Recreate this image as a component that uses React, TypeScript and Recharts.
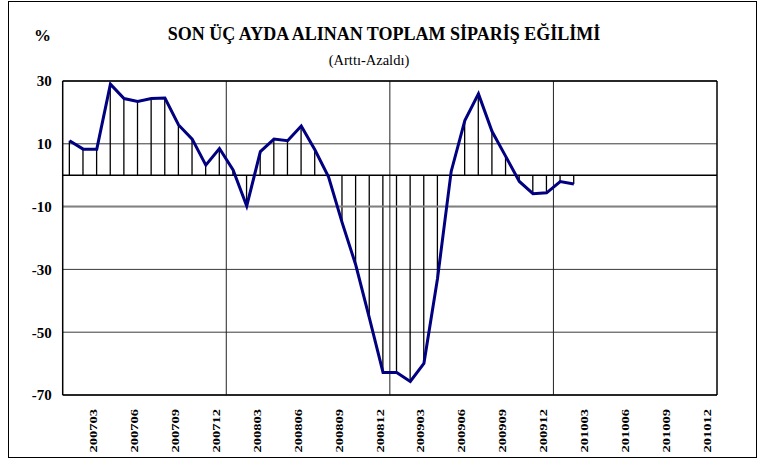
import React from "react";
import {
  ComposedChart, Bar, Line, XAxis, YAxis, CartesianGrid, ReferenceLine,
} from "recharts";

// monthly values 200701 .. 201002, rest of 2010 empty
const values = [
  11.0, 8.3, 8.3, 29.0, 24.4, 23.5, 24.4, 24.6, 16.0, 11.5, 3.2, 8.5,
  1.7, -9.8, 7.5, 11.5, 11.0, 15.7, 8.1, -0.5, -15.1, -28.6, -45.5, -62.8,
  -62.8, -65.7, -59.9, -32.8, 1.2, 17.4, 25.9, 13.9, 6.0, -2.0, -5.9, -5.6,
  -2.0, -2.8,
];
const years = [2007, 2008, 2009, 2010];
const tickLabels = [
  "200703", "200706", "200709", "200712",
  "200803", "200806", "200809", "200812",
  "200903", "200906", "200909", "200912",
  "201003", "201006", "201009", "201012",
];
const yTicks = [30, 10, -10, -30, -50, -70];

const monthCount = years.length * 12;
const data = Array.from({ length: monthCount }, (_, i) => ({
  x: i + 0.5,
  v: i < values.length ? values[i] : null,
}));
// label ticks sit on the centre of every third month
const xTicks = tickLabels.map((_, i) => i * 3 + 2.5);
const labelAt = (t: number) => tickLabels[Math.round((t - 2.5) / 3)] ?? "";
const yearEdges = years.slice(1).map((_, i) => (i + 1) * 12);

const serif = "'Liberation Serif', 'Times New Roman', serif";

const MonthTick = ({ x, y, payload }: { x?: number; y?: number; payload?: { value: number } }) => (
  <text
    transform={`translate(${(x ?? 0) + 0.5},${(y ?? 0) + 12}) rotate(-90) scale(1,0.76)`}
    textAnchor="end"
    fontFamily={serif}
    fontWeight="bold"
    fontSize={14.5}
    fill="#000"
  >
    {labelAt(payload?.value ?? 0)}
  </text>
);

export default function App() {
  return (
    <div style={{ position: "absolute", left: 0, top: 0, width: 771, height: 463, background: "#fff", fontFamily: serif }}>
      <div style={{ position: "absolute", left: 8, top: 1, width: 747, height: 455, border: "1.5px solid #000" }} />
      <div style={{ position: "absolute", left: 0, top: 25, width: 768, textAlign: "center", fontSize: 18, lineHeight: "18px", fontWeight: "bold" }}>
        SON ÜÇ AYDA ALINAN TOPLAM SİPARİŞ EĞİLİMİ
      </div>
      <div style={{ position: "absolute", left: 0, top: 53, width: 738, textAlign: "center", fontSize: 14.5, lineHeight: "14.5px" }}>
        (Arttı-Azaldı)
      </div>
      <div style={{ position: "absolute", left: 34, top: 27, fontSize: 17, lineHeight: "17px", fontWeight: "bold" }}>%</div>

      <ComposedChart
        width={771}
        height={463}
        data={data}
        margin={{ top: 81, right: 54, bottom: 0, left: 8 }}
      >
        <CartesianGrid horizontal vertical={false} stroke="#3a3a3a" strokeWidth={1} />
        <XAxis
          type="number"
          dataKey="x"
          domain={[0, monthCount]}
          ticks={xTicks}
          interval={0}
          tick={<MonthTick />}
          tickLine={false}
          tickSize={0}
          height={68}
          axisLine={{ stroke: "#000", strokeWidth: 1.5 }}
        />
        <YAxis
          type="number"
          domain={[-70, 30]}
          ticks={yTicks}
          interval={0}
          width={54.7}
          tickLine={false}
          tickSize={0}
          tickMargin={11}
          axisLine={{ stroke: "#000", strokeWidth: 1.5 }}
          tick={{ fontFamily: serif, fontWeight: "bold", fontSize: 15, fill: "#000" }}
        />
        <ReferenceLine y={-10} stroke="#808080" strokeWidth={2} />
        {yearEdges.map(e => (
          <ReferenceLine key={e} x={e} stroke="#222" strokeWidth={1} />
        ))}
        <ReferenceLine y={30} stroke="#000" strokeWidth={1.5} />
        <ReferenceLine x={monthCount} stroke="#000" strokeWidth={1.5} />
        <ReferenceLine y={0} stroke="#000" strokeWidth={1.5} />
        <Bar dataKey="v" barSize={1.3} fill="#000" isAnimationActive={false} />
        <Line
          dataKey="v"
          type="linear"
          stroke="#000080"
          strokeWidth={3}
          dot={false}
          activeDot={false}
          connectNulls={false}
          isAnimationActive={false}
        />
      </ComposedChart>
    </div>
  );
}
